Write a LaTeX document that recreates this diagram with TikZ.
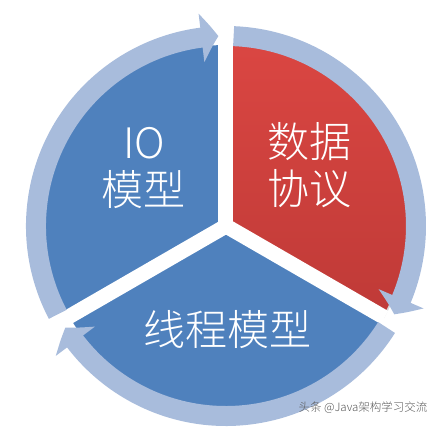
\documentclass[tikz,border=0pt]{standalone}
\usepackage{fontspec}
\IfFontExistsTF{Noto Sans CJK SC Light}
  {\newfontfamily\cjk{Noto Sans CJK SC Light}}
  {\newfontfamily\cjk{Noto Sans CJK SC}}
\usetikzlibrary{arrows.meta,bending,shadows}

\definecolor{secblue}{HTML}{4F81BD}
\definecolor{ringblue}{HTML}{A8BCDC}
\definecolor{redtop}{HTML}{DA4642}
\definecolor{redbot}{HTML}{BF3A37}

\begin{document}
\begin{tikzpicture}[x=1pt, y=1pt,
    sector/.style={fill=secblue},
    gapline/.style={white, line width=15pt},
    ringarc/.style={ringblue, line width=20pt, -{Triangle[width=48pt, length=17pt, bend]}},
    label/.style={text=white, align=center, font=\cjk\fontsize{42}{47}\selectfont}]
    \useasboundingbox (-226,-201) rectangle (214,226);

    % Define the three sectors
    \fill[sector] (0,0) -- (90:181) arc[start angle=90, end angle=210, radius=181] -- cycle;
    \fill[sector] (0,0) -- (210:181) arc[start angle=210, end angle=330, radius=181] -- cycle;
    \path[shading=axis, top color=redtop, bottom color=redbot,
          drop shadow={opacity=0.3, shadow xshift=1pt, shadow yshift=-2pt}]
        (0,0) -- (-30:181) arc[start angle=-30, end angle=90, radius=181] -- cycle;

    % White gaps between the sectors
    \coordinate (Mid) at (0,0);
    \coordinate (GapTop) at (90:183);
    \coordinate (GapLeft) at (210:183);
    \coordinate (GapRight) at (330:183);
    \draw[gapline] (Mid) -- (GapTop);
    \draw[gapline] (Mid) -- (GapLeft);
    \draw[gapline] (Mid) -- (GapRight);

    % Ring of arrows, clockwise
    \draw[ringarc] (207.7:190) arc[start angle=207.7, end angle=92.3, radius=190];
    \draw[ringarc] (87.7:190) arc[start angle=87.7, end angle=-27.7, radius=190];
    \draw[ringarc] (-32.3:190) arc[start angle=-32.3, end angle=-147.7, radius=190];

    % Labels
    \node[label] (IO) at (-82,58) {IO\\模型};
    \node[label] (Data) at (84,61) {数据\\协议};
    \node[label] (Thread) at (2,-104) {线程模型};

    % Watermark
    \node[text=black!65, font=\cjk\fontsize{11.5}{14}\selectfont] (Mark) at (137,-182) {头条 @Java架构学习交流};
\end{tikzpicture}
\end{document}
